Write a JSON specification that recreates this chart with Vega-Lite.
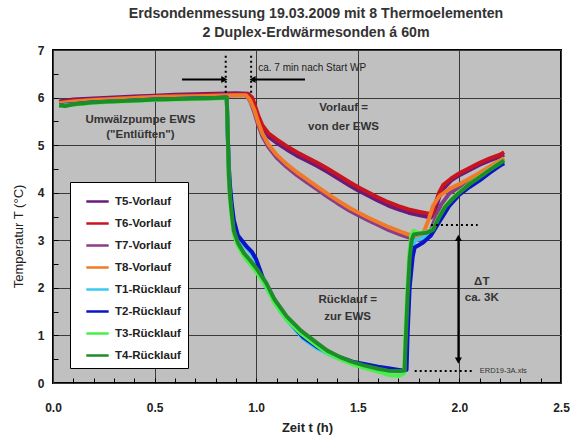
{
  "$schema": "https://vega.github.io/schema/vega-lite/v6.json",
  "width": 508,
  "height": 333,
  "autosize": {"type": "none"},
  "padding": {"left": 53, "top": 50, "right": 10, "bottom": 62},
  "background": "white",
  "title": {
    "text": ["Erdsondenmessung 19.03.2009 mit 8 Thermoelementen", "2 Duplex-Erdwärmesonden á 60m"],
    "font": "Liberation Sans", "fontSize": 14.2, "fontWeight": "bold", "color": "#333333",
    "anchor": "middle", "dx": 9, "offset": 4, "lineHeight": 19
  },
  "config": {
    "font": "Liberation Sans",
    "view": {"fill": "#c0c0c0", "stroke": "black", "strokeWidth": 2},
    "axis": {
      "domain": false, "gridColor": "#3a3a3a", "gridWidth": 1,
      "labelFont": "Liberation Sans", "labelFontWeight": "bold", "labelFontSize": 12, "labelColor": "#222222",
      "titleFont": "Liberation Sans", "titleFontWeight": "bold", "titleFontSize": 13, "titleColor": "#222222",
      "tickColor": "black", "tickWidth": 1, "labelFlush": false, "labelOverlap": false
    },
    "legend": {
      "labelFont": "Liberation Sans", "labelFontSize": 11.5, "labelFontWeight": "bold", "labelColor": "#222222",
      "fillColor": "white", "strokeColor": "black", "padding": 7,
      "symbolType": "stroke", "symbolStrokeWidth": 2.5, "symbolSize": 500, "symbolOffset": 8, "rowPadding": 4, "labelOffset": 5
    }
  },
  "resolve": {"axis": {"x": "independent", "y": "independent"}},
  "encoding": {
    "x": {"field": "t", "type": "quantitative", "scale": {"domain": [0, 2.5], "nice": false, "zero": false}, "axis": null},
    "y": {"field": "T", "type": "quantitative", "scale": {"domain": [0, 7], "nice": false, "zero": false}, "axis": null}
  },
  "layer": [
    {
      "data": {"values": [
        {"s":"T5-Vorlauf","t":0.03,"T":5.92},{"s":"T5-Vorlauf","t":0.1,"T":5.96},{"s":"T5-Vorlauf","t":0.2,"T":5.98},{"s":"T5-Vorlauf","t":0.3,"T":6.0},{"s":"T5-Vorlauf","t":0.4,"T":6.02},{"s":"T5-Vorlauf","t":0.5,"T":6.04},{"s":"T5-Vorlauf","t":0.6,"T":6.06},{"s":"T5-Vorlauf","t":0.7,"T":6.07},{"s":"T5-Vorlauf","t":0.8,"T":6.08},{"s":"T5-Vorlauf","t":0.9,"T":6.09},{"s":"T5-Vorlauf","t":0.96,"T":6.08},{"s":"T5-Vorlauf","t":0.98,"T":5.98},{"s":"T5-Vorlauf","t":0.99,"T":5.84},{"s":"T5-Vorlauf","t":1.01,"T":5.55},{"s":"T5-Vorlauf","t":1.03,"T":5.35},{"s":"T5-Vorlauf","t":1.06,"T":5.18},{"s":"T5-Vorlauf","t":1.1,"T":5.05},{"s":"T5-Vorlauf","t":1.15,"T":4.91},{"s":"T5-Vorlauf","t":1.2,"T":4.78},{"s":"T5-Vorlauf","t":1.25,"T":4.67},{"s":"T5-Vorlauf","t":1.3,"T":4.56},{"s":"T5-Vorlauf","t":1.35,"T":4.44},{"s":"T5-Vorlauf","t":1.4,"T":4.31},{"s":"T5-Vorlauf","t":1.46,"T":4.15},{"s":"T5-Vorlauf","t":1.5,"T":4.05},{"s":"T5-Vorlauf","t":1.55,"T":3.94},{"s":"T5-Vorlauf","t":1.6,"T":3.83},{"s":"T5-Vorlauf","t":1.65,"T":3.73},{"s":"T5-Vorlauf","t":1.7,"T":3.65},{"s":"T5-Vorlauf","t":1.75,"T":3.58},{"s":"T5-Vorlauf","t":1.8,"T":3.53},{"s":"T5-Vorlauf","t":1.86,"T":3.48},{"s":"T5-Vorlauf","t":1.88,"T":3.62},{"s":"T5-Vorlauf","t":1.9,"T":3.9},{"s":"T5-Vorlauf","t":1.92,"T":4.08},{"s":"T5-Vorlauf","t":1.96,"T":4.26},{"s":"T5-Vorlauf","t":2.0,"T":4.37},{"s":"T5-Vorlauf","t":2.05,"T":4.48},{"s":"T5-Vorlauf","t":2.1,"T":4.59},{"s":"T5-Vorlauf","t":2.15,"T":4.68},{"s":"T5-Vorlauf","t":2.2,"T":4.76},{"s":"T5-Vorlauf","t":2.22,"T":4.8},
        {"s":"T6-Vorlauf","t":0.03,"T":5.9},{"s":"T6-Vorlauf","t":0.1,"T":5.94},{"s":"T6-Vorlauf","t":0.2,"T":5.96},{"s":"T6-Vorlauf","t":0.3,"T":5.98},{"s":"T6-Vorlauf","t":0.4,"T":6.0},{"s":"T6-Vorlauf","t":0.5,"T":6.02},{"s":"T6-Vorlauf","t":0.6,"T":6.04},{"s":"T6-Vorlauf","t":0.7,"T":6.05},{"s":"T6-Vorlauf","t":0.8,"T":6.06},{"s":"T6-Vorlauf","t":0.9,"T":6.07},{"s":"T6-Vorlauf","t":0.96,"T":6.07},{"s":"T6-Vorlauf","t":0.98,"T":6.0},{"s":"T6-Vorlauf","t":0.99,"T":5.88},{"s":"T6-Vorlauf","t":1.01,"T":5.62},{"s":"T6-Vorlauf","t":1.03,"T":5.42},{"s":"T6-Vorlauf","t":1.06,"T":5.25},{"s":"T6-Vorlauf","t":1.1,"T":5.12},{"s":"T6-Vorlauf","t":1.15,"T":4.98},{"s":"T6-Vorlauf","t":1.2,"T":4.85},{"s":"T6-Vorlauf","t":1.25,"T":4.74},{"s":"T6-Vorlauf","t":1.3,"T":4.63},{"s":"T6-Vorlauf","t":1.35,"T":4.51},{"s":"T6-Vorlauf","t":1.4,"T":4.38},{"s":"T6-Vorlauf","t":1.46,"T":4.22},{"s":"T6-Vorlauf","t":1.5,"T":4.12},{"s":"T6-Vorlauf","t":1.55,"T":4.01},{"s":"T6-Vorlauf","t":1.6,"T":3.9},{"s":"T6-Vorlauf","t":1.65,"T":3.8},{"s":"T6-Vorlauf","t":1.7,"T":3.72},{"s":"T6-Vorlauf","t":1.75,"T":3.65},{"s":"T6-Vorlauf","t":1.8,"T":3.6},{"s":"T6-Vorlauf","t":1.85,"T":3.56},{"s":"T6-Vorlauf","t":1.87,"T":3.56},{"s":"T6-Vorlauf","t":1.88,"T":3.75},{"s":"T6-Vorlauf","t":1.9,"T":4.0},{"s":"T6-Vorlauf","t":1.92,"T":4.16},{"s":"T6-Vorlauf","t":1.96,"T":4.3},{"s":"T6-Vorlauf","t":2.0,"T":4.41},{"s":"T6-Vorlauf","t":2.05,"T":4.52},{"s":"T6-Vorlauf","t":2.1,"T":4.63},{"s":"T6-Vorlauf","t":2.15,"T":4.72},{"s":"T6-Vorlauf","t":2.2,"T":4.8},{"s":"T6-Vorlauf","t":2.22,"T":4.85},
        {"s":"T7-Vorlauf","t":0.03,"T":5.88},{"s":"T7-Vorlauf","t":0.1,"T":5.92},{"s":"T7-Vorlauf","t":0.2,"T":5.95},{"s":"T7-Vorlauf","t":0.3,"T":5.97},{"s":"T7-Vorlauf","t":0.4,"T":5.99},{"s":"T7-Vorlauf","t":0.5,"T":6.01},{"s":"T7-Vorlauf","t":0.6,"T":6.02},{"s":"T7-Vorlauf","t":0.7,"T":6.03},{"s":"T7-Vorlauf","t":0.8,"T":6.04},{"s":"T7-Vorlauf","t":0.9,"T":6.05},{"s":"T7-Vorlauf","t":0.95,"T":6.05},{"s":"T7-Vorlauf","t":0.97,"T":5.93},{"s":"T7-Vorlauf","t":0.99,"T":5.7},{"s":"T7-Vorlauf","t":1.01,"T":5.42},{"s":"T7-Vorlauf","t":1.03,"T":5.19},{"s":"T7-Vorlauf","t":1.06,"T":4.96},{"s":"T7-Vorlauf","t":1.1,"T":4.74},{"s":"T7-Vorlauf","t":1.15,"T":4.54},{"s":"T7-Vorlauf","t":1.2,"T":4.37},{"s":"T7-Vorlauf","t":1.25,"T":4.22},{"s":"T7-Vorlauf","t":1.3,"T":4.07},{"s":"T7-Vorlauf","t":1.35,"T":3.92},{"s":"T7-Vorlauf","t":1.4,"T":3.78},{"s":"T7-Vorlauf","t":1.46,"T":3.62},{"s":"T7-Vorlauf","t":1.5,"T":3.53},{"s":"T7-Vorlauf","t":1.55,"T":3.42},{"s":"T7-Vorlauf","t":1.6,"T":3.32},{"s":"T7-Vorlauf","t":1.65,"T":3.22},{"s":"T7-Vorlauf","t":1.71,"T":3.12},{"s":"T7-Vorlauf","t":1.77,"T":3.03},{"s":"T7-Vorlauf","t":1.82,"T":2.99},{"s":"T7-Vorlauf","t":1.85,"T":3.1},{"s":"T7-Vorlauf","t":1.88,"T":3.45},{"s":"T7-Vorlauf","t":1.91,"T":3.75},{"s":"T7-Vorlauf","t":1.95,"T":3.98},{"s":"T7-Vorlauf","t":2.0,"T":4.12},{"s":"T7-Vorlauf","t":2.05,"T":4.25},{"s":"T7-Vorlauf","t":2.1,"T":4.37},{"s":"T7-Vorlauf","t":2.15,"T":4.5},{"s":"T7-Vorlauf","t":2.2,"T":4.63},{"s":"T7-Vorlauf","t":2.22,"T":4.68},
        {"s":"T8-Vorlauf","t":0.03,"T":5.88},{"s":"T8-Vorlauf","t":0.1,"T":5.92},{"s":"T8-Vorlauf","t":0.2,"T":5.95},{"s":"T8-Vorlauf","t":0.3,"T":5.97},{"s":"T8-Vorlauf","t":0.4,"T":5.99},{"s":"T8-Vorlauf","t":0.5,"T":6.01},{"s":"T8-Vorlauf","t":0.6,"T":6.02},{"s":"T8-Vorlauf","t":0.7,"T":6.03},{"s":"T8-Vorlauf","t":0.8,"T":6.04},{"s":"T8-Vorlauf","t":0.9,"T":6.05},{"s":"T8-Vorlauf","t":0.95,"T":6.05},{"s":"T8-Vorlauf","t":0.97,"T":5.95},{"s":"T8-Vorlauf","t":0.99,"T":5.75},{"s":"T8-Vorlauf","t":1.01,"T":5.48},{"s":"T8-Vorlauf","t":1.03,"T":5.25},{"s":"T8-Vorlauf","t":1.06,"T":5.02},{"s":"T8-Vorlauf","t":1.1,"T":4.8},{"s":"T8-Vorlauf","t":1.15,"T":4.6},{"s":"T8-Vorlauf","t":1.2,"T":4.43},{"s":"T8-Vorlauf","t":1.25,"T":4.28},{"s":"T8-Vorlauf","t":1.3,"T":4.13},{"s":"T8-Vorlauf","t":1.35,"T":3.98},{"s":"T8-Vorlauf","t":1.4,"T":3.84},{"s":"T8-Vorlauf","t":1.46,"T":3.68},{"s":"T8-Vorlauf","t":1.5,"T":3.59},{"s":"T8-Vorlauf","t":1.55,"T":3.48},{"s":"T8-Vorlauf","t":1.6,"T":3.38},{"s":"T8-Vorlauf","t":1.65,"T":3.28},{"s":"T8-Vorlauf","t":1.71,"T":3.18},{"s":"T8-Vorlauf","t":1.77,"T":3.09},{"s":"T8-Vorlauf","t":1.8,"T":3.06},{"s":"T8-Vorlauf","t":1.82,"T":3.12},{"s":"T8-Vorlauf","t":1.85,"T":3.45},{"s":"T8-Vorlauf","t":1.87,"T":3.72},{"s":"T8-Vorlauf","t":1.9,"T":3.92},{"s":"T8-Vorlauf","t":1.95,"T":4.08},{"s":"T8-Vorlauf","t":2.0,"T":4.18},{"s":"T8-Vorlauf","t":2.05,"T":4.3},{"s":"T8-Vorlauf","t":2.1,"T":4.42},{"s":"T8-Vorlauf","t":2.15,"T":4.55},{"s":"T8-Vorlauf","t":2.2,"T":4.68},{"s":"T8-Vorlauf","t":2.22,"T":4.73},
        {"s":"T1-Rücklauf","t":0.03,"T":5.84},{"s":"T1-Rücklauf","t":0.1,"T":5.86},{"s":"T1-Rücklauf","t":0.2,"T":5.9},{"s":"T1-Rücklauf","t":0.3,"T":5.92},{"s":"T1-Rücklauf","t":0.4,"T":5.94},{"s":"T1-Rücklauf","t":0.5,"T":5.96},{"s":"T1-Rücklauf","t":0.6,"T":5.97},{"s":"T1-Rücklauf","t":0.7,"T":5.98},{"s":"T1-Rücklauf","t":0.8,"T":5.99},{"s":"T1-Rücklauf","t":0.855,"T":6.0},{"s":"T1-Rücklauf","t":0.86,"T":5.2},{"s":"T1-Rücklauf","t":0.865,"T":4.55},{"s":"T1-Rücklauf","t":0.87,"T":4.15},{"s":"T1-Rücklauf","t":0.88,"T":3.7},{"s":"T1-Rücklauf","t":0.89,"T":3.38},{"s":"T1-Rücklauf","t":0.91,"T":3.06},{"s":"T1-Rücklauf","t":0.955,"T":2.82},{"s":"T1-Rücklauf","t":0.98,"T":2.7},{"s":"T1-Rücklauf","t":1.0,"T":2.55},{"s":"T1-Rücklauf","t":1.02,"T":2.32},{"s":"T1-Rücklauf","t":1.04,"T":2.08},{"s":"T1-Rücklauf","t":1.08,"T":1.78},{"s":"T1-Rücklauf","t":1.12,"T":1.5},{"s":"T1-Rücklauf","t":1.17,"T":1.23},{"s":"T1-Rücklauf","t":1.23,"T":0.94},{"s":"T1-Rücklauf","t":1.3,"T":0.73},{"s":"T1-Rücklauf","t":1.38,"T":0.56},{"s":"T1-Rücklauf","t":1.48,"T":0.41},{"s":"T1-Rücklauf","t":1.6,"T":0.31},{"s":"T1-Rücklauf","t":1.65,"T":0.27},{"s":"T1-Rücklauf","t":1.71,"T":0.24},{"s":"T1-Rücklauf","t":1.735,"T":0.26},{"s":"T1-Rücklauf","t":1.742,"T":1.0},{"s":"T1-Rücklauf","t":1.752,"T":2.0},{"s":"T1-Rücklauf","t":1.765,"T":2.75},{"s":"T1-Rücklauf","t":1.78,"T":3.0},{"s":"T1-Rücklauf","t":1.82,"T":3.05},{"s":"T1-Rücklauf","t":1.86,"T":3.15},{"s":"T1-Rücklauf","t":1.9,"T":3.42},{"s":"T1-Rücklauf","t":1.95,"T":3.76},{"s":"T1-Rücklauf","t":2.0,"T":3.98},{"s":"T1-Rücklauf","t":2.05,"T":4.14},{"s":"T1-Rücklauf","t":2.1,"T":4.28},{"s":"T1-Rücklauf","t":2.15,"T":4.44},{"s":"T1-Rücklauf","t":2.2,"T":4.59},{"s":"T1-Rücklauf","t":2.22,"T":4.64},
        {"s":"T2-Rücklauf","t":0.03,"T":5.84},{"s":"T2-Rücklauf","t":0.1,"T":5.86},{"s":"T2-Rücklauf","t":0.2,"T":5.9},{"s":"T2-Rücklauf","t":0.3,"T":5.92},{"s":"T2-Rücklauf","t":0.4,"T":5.94},{"s":"T2-Rücklauf","t":0.5,"T":5.96},{"s":"T2-Rücklauf","t":0.6,"T":5.97},{"s":"T2-Rücklauf","t":0.7,"T":5.98},{"s":"T2-Rücklauf","t":0.8,"T":5.99},{"s":"T2-Rücklauf","t":0.855,"T":6.0},{"s":"T2-Rücklauf","t":0.86,"T":5.2},{"s":"T2-Rücklauf","t":0.865,"T":4.6},{"s":"T2-Rücklauf","t":0.87,"T":4.2},{"s":"T2-Rücklauf","t":0.88,"T":3.75},{"s":"T2-Rücklauf","t":0.89,"T":3.42},{"s":"T2-Rücklauf","t":0.91,"T":3.1},{"s":"T2-Rücklauf","t":0.955,"T":2.86},{"s":"T2-Rücklauf","t":0.98,"T":2.75},{"s":"T2-Rücklauf","t":1.0,"T":2.6},{"s":"T2-Rücklauf","t":1.02,"T":2.36},{"s":"T2-Rücklauf","t":1.04,"T":2.12},{"s":"T2-Rücklauf","t":1.08,"T":1.82},{"s":"T2-Rücklauf","t":1.12,"T":1.53},{"s":"T2-Rücklauf","t":1.17,"T":1.26},{"s":"T2-Rücklauf","t":1.23,"T":0.97},{"s":"T2-Rücklauf","t":1.3,"T":0.76},{"s":"T2-Rücklauf","t":1.38,"T":0.59},{"s":"T2-Rücklauf","t":1.48,"T":0.44},{"s":"T2-Rücklauf","t":1.6,"T":0.34},{"s":"T2-Rücklauf","t":1.65,"T":0.31},{"s":"T2-Rücklauf","t":1.71,"T":0.27},{"s":"T2-Rücklauf","t":1.74,"T":0.28},{"s":"T2-Rücklauf","t":1.745,"T":1.0},{"s":"T2-Rücklauf","t":1.755,"T":2.0},{"s":"T2-Rücklauf","t":1.77,"T":2.65},{"s":"T2-Rücklauf","t":1.78,"T":2.85},{"s":"T2-Rücklauf","t":1.82,"T":2.95},{"s":"T2-Rücklauf","t":1.86,"T":3.1},{"s":"T2-Rücklauf","t":1.9,"T":3.38},{"s":"T2-Rücklauf","t":1.95,"T":3.72},{"s":"T2-Rücklauf","t":2.0,"T":3.96},{"s":"T2-Rücklauf","t":2.05,"T":4.12},{"s":"T2-Rücklauf","t":2.1,"T":4.26},{"s":"T2-Rücklauf","t":2.15,"T":4.42},{"s":"T2-Rücklauf","t":2.2,"T":4.57},{"s":"T2-Rücklauf","t":2.22,"T":4.62},
        {"s":"T3-Rücklauf","t":0.03,"T":5.83},{"s":"T3-Rücklauf","t":0.1,"T":5.85},{"s":"T3-Rücklauf","t":0.2,"T":5.89},{"s":"T3-Rücklauf","t":0.3,"T":5.91},{"s":"T3-Rücklauf","t":0.4,"T":5.93},{"s":"T3-Rücklauf","t":0.5,"T":5.95},{"s":"T3-Rücklauf","t":0.6,"T":5.96},{"s":"T3-Rücklauf","t":0.7,"T":5.97},{"s":"T3-Rücklauf","t":0.8,"T":5.98},{"s":"T3-Rücklauf","t":0.855,"T":5.99},{"s":"T3-Rücklauf","t":0.86,"T":5.2},{"s":"T3-Rücklauf","t":0.865,"T":4.3},{"s":"T3-Rücklauf","t":0.87,"T":3.9},{"s":"T3-Rücklauf","t":0.88,"T":3.45},{"s":"T3-Rücklauf","t":0.89,"T":3.12},{"s":"T3-Rücklauf","t":0.91,"T":2.88},{"s":"T3-Rücklauf","t":0.94,"T":2.66},{"s":"T3-Rücklauf","t":0.97,"T":2.5},{"s":"T3-Rücklauf","t":1.0,"T":2.34},{"s":"T3-Rücklauf","t":1.05,"T":2.02},{"s":"T3-Rücklauf","t":1.09,"T":1.68},{"s":"T3-Rücklauf","t":1.15,"T":1.33},{"s":"T3-Rücklauf","t":1.22,"T":1.04},{"s":"T3-Rücklauf","t":1.3,"T":0.78},{"s":"T3-Rücklauf","t":1.35,"T":0.63},{"s":"T3-Rücklauf","t":1.41,"T":0.5},{"s":"T3-Rücklauf","t":1.47,"T":0.4},{"s":"T3-Rücklauf","t":1.53,"T":0.32},{"s":"T3-Rücklauf","t":1.6,"T":0.24},{"s":"T3-Rücklauf","t":1.65,"T":0.17},{"s":"T3-Rücklauf","t":1.7,"T":0.15},{"s":"T3-Rücklauf","t":1.728,"T":0.2},{"s":"T3-Rücklauf","t":1.733,"T":0.9},{"s":"T3-Rücklauf","t":1.743,"T":1.9},{"s":"T3-Rücklauf","t":1.753,"T":2.7},{"s":"T3-Rücklauf","t":1.763,"T":3.1},{"s":"T3-Rücklauf","t":1.775,"T":3.2},{"s":"T3-Rücklauf","t":1.8,"T":3.15},{"s":"T3-Rücklauf","t":1.84,"T":3.17},{"s":"T3-Rücklauf","t":1.87,"T":3.24},{"s":"T3-Rücklauf","t":1.9,"T":3.5},{"s":"T3-Rücklauf","t":1.93,"T":3.72},{"s":"T3-Rücklauf","t":1.96,"T":3.86},{"s":"T3-Rücklauf","t":2.0,"T":4.02},{"s":"T3-Rücklauf","t":2.05,"T":4.19},{"s":"T3-Rücklauf","t":2.1,"T":4.34},{"s":"T3-Rücklauf","t":2.15,"T":4.49},{"s":"T3-Rücklauf","t":2.2,"T":4.63},{"s":"T3-Rücklauf","t":2.22,"T":4.69},
        {"s":"T4-Rücklauf","t":0.03,"T":5.84},{"s":"T4-Rücklauf","t":0.06,"T":5.82},{"s":"T4-Rücklauf","t":0.1,"T":5.86},{"s":"T4-Rücklauf","t":0.2,"T":5.9},{"s":"T4-Rücklauf","t":0.3,"T":5.92},{"s":"T4-Rücklauf","t":0.4,"T":5.94},{"s":"T4-Rücklauf","t":0.5,"T":5.96},{"s":"T4-Rücklauf","t":0.6,"T":5.97},{"s":"T4-Rücklauf","t":0.7,"T":5.98},{"s":"T4-Rücklauf","t":0.8,"T":5.99},{"s":"T4-Rücklauf","t":0.855,"T":6.0},{"s":"T4-Rücklauf","t":0.86,"T":5.3},{"s":"T4-Rücklauf","t":0.865,"T":4.4},{"s":"T4-Rücklauf","t":0.87,"T":4.0},{"s":"T4-Rücklauf","t":0.88,"T":3.55},{"s":"T4-Rücklauf","t":0.89,"T":3.2},{"s":"T4-Rücklauf","t":0.91,"T":2.95},{"s":"T4-Rücklauf","t":0.94,"T":2.73},{"s":"T4-Rücklauf","t":0.97,"T":2.58},{"s":"T4-Rücklauf","t":1.0,"T":2.42},{"s":"T4-Rücklauf","t":1.05,"T":2.1},{"s":"T4-Rücklauf","t":1.09,"T":1.76},{"s":"T4-Rücklauf","t":1.15,"T":1.4},{"s":"T4-Rücklauf","t":1.22,"T":1.1},{"s":"T4-Rücklauf","t":1.3,"T":0.84},{"s":"T4-Rücklauf","t":1.35,"T":0.68},{"s":"T4-Rücklauf","t":1.41,"T":0.55},{"s":"T4-Rücklauf","t":1.47,"T":0.45},{"s":"T4-Rücklauf","t":1.53,"T":0.37},{"s":"T4-Rücklauf","t":1.6,"T":0.3},{"s":"T4-Rücklauf","t":1.65,"T":0.26},{"s":"T4-Rücklauf","t":1.7,"T":0.25},{"s":"T4-Rücklauf","t":1.73,"T":0.26},{"s":"T4-Rücklauf","t":1.735,"T":0.8},{"s":"T4-Rücklauf","t":1.745,"T":1.8},{"s":"T4-Rücklauf","t":1.755,"T":2.6},{"s":"T4-Rücklauf","t":1.765,"T":3.0},{"s":"T4-Rücklauf","t":1.775,"T":3.12},{"s":"T4-Rücklauf","t":1.8,"T":3.14},{"s":"T4-Rücklauf","t":1.84,"T":3.16},{"s":"T4-Rücklauf","t":1.87,"T":3.22},{"s":"T4-Rücklauf","t":1.9,"T":3.48},{"s":"T4-Rücklauf","t":1.93,"T":3.7},{"s":"T4-Rücklauf","t":1.96,"T":3.84},{"s":"T4-Rücklauf","t":2.0,"T":4.0},{"s":"T4-Rücklauf","t":2.05,"T":4.18},{"s":"T4-Rücklauf","t":2.1,"T":4.33},{"s":"T4-Rücklauf","t":2.15,"T":4.48},{"s":"T4-Rücklauf","t":2.2,"T":4.62},{"s":"T4-Rücklauf","t":2.22,"T":4.68}
      ]},
      "mark": {"type": "line", "strokeWidth": 4, "strokeJoin": "round"},
      "encoding": {
        "x": {
          "field": "t", "type": "quantitative",
          "scale": {"domain": [0, 2.5], "nice": false, "zero": false},
          "axis": {
            "orient": "bottom",
            "values": [0, 0.5, 1, 1.5, 2, 2.5], "format": ".1f",
            "ticks": false, "grid": true, "labelPadding": 19,
            "title": "Zeit t (h)", "titleX": 254, "titleY": 44, "titleBaseline": "middle"
          }
        },
        "y": {
          "field": "T", "type": "quantitative",
          "scale": {"domain": [0, 7], "nice": false, "zero": false},
          "axis": {
            "orient": "left",
            "values": [0, 1, 2, 3, 4, 5, 6, 7], "format": "d",
            "ticks": false, "grid": true, "labelPadding": 9,
            "title": "Temperatur T (°C)", "titleFontWeight": "normal", "titleX": -35, "titleY": 186, "titleBaseline": "middle", "titleAngle": -90, "titleAlign": "center"
          }
        },
        "color": {
          "field": "s", "type": "nominal",
          "scale": {
            "domain": ["T5-Vorlauf","T6-Vorlauf","T7-Vorlauf","T8-Vorlauf","T1-Rücklauf","T2-Rücklauf","T3-Rücklauf","T4-Rücklauf"],
            "range": ["#6a1b7a","#c8141e","#8a3d86","#f07a28","#38c8f0","#0a14c8","#4af04a","#1e8c28"]
          },
          "legend": {"title": null, "orient": "none", "legendX": 17, "legendY": 132}
        }
      }
    },
    {
      "data": {"values": [
        {"t": 0.85, "T": 6.1, "t2": 0.85, "T2": 6.92},
        {"t": 0.975, "T": 6.1, "t2": 0.975, "T2": 6.92},
        {"t": 1.86, "T": 3.32, "t2": 2.09, "T2": 3.32},
        {"t": 1.78, "T": 0.25, "t2": 2.07, "T2": 0.25}
      ]},
      "mark": {"type": "rule", "color": "black", "strokeWidth": 2, "strokeDash": [2, 3]},
      "encoding": {"x2": {"field": "t2"}, "y2": {"field": "T2"}}
    },
    {
      "data": {"values": [
        {"t": 0.635, "T": 6.38, "t2": 0.835, "T2": 6.38},
        {"t": 1.24, "T": 6.38, "t2": 0.99, "T2": 6.38},
        {"t": 1.995, "T": 0.5, "t2": 1.995, "T2": 3.02}
      ]},
      "mark": {"type": "rule", "color": "black", "strokeWidth": 2},
      "encoding": {"x2": {"field": "t2"}, "y2": {"field": "T2"}}
    },
    {
      "data": {"values": [{"t": 0.843, "T": 6.38}]},
      "mark": {"type": "point", "shape": "triangle-right", "filled": true, "color": "black", "size": 50, "opacity": 1}
    },
    {
      "data": {"values": [{"t": 0.982, "T": 6.38}]},
      "mark": {"type": "point", "shape": "triangle-left", "filled": true, "color": "black", "size": 50, "opacity": 1}
    },
    {
      "data": {"values": [{"t": 1.995, "T": 3.05}]},
      "mark": {"type": "point", "shape": "triangle-up", "filled": true, "color": "black", "size": 50, "opacity": 1}
    },
    {
      "data": {"values": [{"t": 1.995, "T": 0.47}]},
      "mark": {"type": "point", "shape": "triangle-down", "filled": true, "color": "black", "size": 50, "opacity": 1}
    },
    {
      "data": {"values": [
        {"t": 0.43, "T": 5.52, "label": "Umwälzpumpe EWS"},
        {"t": 0.43, "T": 5.22, "label": "(\"Entlüften\")"},
        {"t": 1.43, "T": 5.78, "label": "Vorlauf ="},
        {"t": 1.43, "T": 5.38, "label": "von der EWS"},
        {"t": 1.45, "T": 1.74, "label": "Rücklauf ="},
        {"t": 1.45, "T": 1.39, "label": "zur EWS"},
        {"t": 2.11, "T": 2.12, "label": "ΔT"},
        {"t": 2.11, "T": 1.79, "label": "ca. 3K"}
      ]},
      "mark": {"type": "text", "font": "Liberation Sans", "fontSize": 11.5, "fontWeight": "bold", "color": "#333333", "align": "center", "baseline": "middle"},
      "encoding": {"text": {"field": "label"}}
    },
    {
      "data": {"values": [{"t": 1.01, "T": 6.62, "label": "ca. 7 min nach Start WP"}]},
      "mark": {"type": "text", "font": "Liberation Sans", "fontSize": 10, "color": "#222222", "align": "left", "baseline": "middle"},
      "encoding": {"text": {"field": "label"}}
    },
    {
      "data": {"values": [{"t": 2.1, "T": 0.25, "label": "ERD19-3A.xls"}]},
      "mark": {"type": "text", "font": "Liberation Sans", "fontSize": 7.5, "color": "#333333", "align": "left", "baseline": "middle"},
      "encoding": {
        "text": {"field": "label"},
        "x": {
          "field": "t", "type": "quantitative",
          "scale": {"domain": [0, 2.5], "nice": false, "zero": false},
          "axis": {
            "orient": "bottom", "offset": -5,
            "values": [0.1,0.2,0.3,0.4,0.5,0.6,0.7,0.8,0.9,1,1.1,1.2,1.3,1.4,1.5,1.6,1.7,1.8,1.9,2,2.1,2.2,2.3,2.4],
            "labels": false, "grid": false, "domain": false, "ticks": true, "tickSize": 5, "tickColor": "black", "title": null
          }
        },
        "y": {
          "field": "T", "type": "quantitative",
          "scale": {"domain": [0, 7], "nice": false, "zero": false},
          "axis": {
            "orient": "left", "offset": -5,
            "values": [0.5,1,1.5,2,2.5,3,3.5,4,4.5,5,5.5,6,6.5],
            "labels": false, "grid": false, "domain": false, "ticks": true, "tickSize": 5, "tickColor": "black", "title": null
          }
        }
      }
    }
  ]
}
